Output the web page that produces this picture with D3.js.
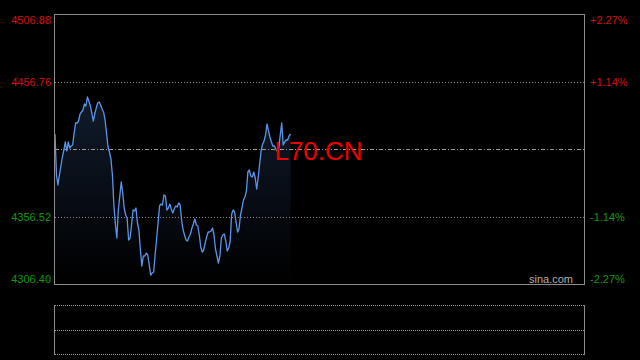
<!DOCTYPE html>
<html><head><meta charset="utf-8">
<script src="https://cdn.jsdelivr.net/npm/d3@7/dist/d3.min.js"></script>
<style>html,body{margin:0;padding:0;background:#000;}svg{display:block}</style>
</head><body>
<svg id="chart" width="640" height="360"></svg>
<script>
const symbol = "L70.CN";
const watermark = "sina.com";
const prevClose = 4406.64;
const priceMin = 4306.40, priceMax = 4506.88;
const axisPrices = [4506.88, 4456.76, 4356.52, 4306.40];
const gridPrices = [4456.76, 4356.52];
const totalSlots = 360;
const prices = [
4418.15,4387.71,4380.28,4387.71,4394.39,4401.07,4406.27,4412.21,4405.52,4412.21,
4407.75,4409.24,4409.98,4418.89,4426.32,4426.32,4427.80,4433.00,4434.48,4435.97,
4440.42,4438.94,4445.62,4442.65,4438.94,4433.74,4427.80,4433.00,4437.45,4441.17,
4441.91,4439.68,4436.71,4434.48,4428.54,4418.89,4408.50,4404.78,4399.58,4387.71,
4365.43,4351.32,4340.93,4361.72,4372.11,4382.51,4374.34,4363.20,4358.00,4355.78,
4339.44,4340.93,4350.58,4361.72,4360.97,4363.20,4352.06,4346.87,4332.02,4320.14,
4327.56,4327.56,4329.79,4328.30,4320.88,4313.45,4314.94,4315.68,4328.30,4340.18,
4352.06,4364.69,4366.17,4365.43,4372.85,4372.11,4361.72,4363.20,4366.17,4362.46,
4359.49,4362.46,4364.69,4363.95,4366.91,4365.43,4354.29,4346.87,4343.16,4339.44,
4338.70,4341.67,4343.90,4348.35,4351.32,4355.03,4350.58,4349.84,4343.16,4334.24,
4330.53,4332.02,4337.21,4341.67,4345.38,4345.38,4346.12,4348.35,4343.16,4332.76,
4327.56,4322.36,4327.56,4340.93,4343.16,4343.90,4338.70,4331.27,4333.50,4338.70,
4358.75,4361.72,4360.23,4352.81,4345.38,4347.61,4358.00,4363.20,4369.14,4371.37,
4375.82,4389.93,4391.42,4386.96,4386.22,4389.93,4385.48,4377.31,4385.48,4395.87,
4405.52,4410.72,4412.95,4417.41,4425.57,4420.38,4415.92,4412.21,4409.24,4409.24,
4407.01,4404.78,4408.50,4417.41,4426.32,4409.98,4412.21,4413.69,4413.69,4416.66,
4418.15
];

const svg = d3.select("#chart");
const L = 54.5, R = 584.5, T = 14.5, B = 284.5;
const x = d3.scaleLinear().domain([0, totalSlots]).range([55, 585]);
const y = d3.scaleLinear().domain([priceMin, priceMax]).range([B, T]);
const font = "Arial, 'Liberation Sans', sans-serif";

const defs = svg.append("defs");
const grad = defs.append("linearGradient").attr("id", "fillGrad")
  .attr("gradientUnits", "userSpaceOnUse").attr("x1", 0).attr("x2", 0).attr("y1", T).attr("y2", B);
grad.append("stop").attr("offset", 0).attr("stop-color", "#17273f");
grad.append("stop").attr("offset", 1).attr("stop-color", "#000000");

// area
const area = d3.area().x((d, i) => x(i)).y0(B).y1(d => y(d));
svg.append("path").datum(prices).attr("d", area).attr("fill", "url(#fillGrad)");

// grid lines (start at whole pixel so dots stay crisp)
gridPrices.forEach(p => {
  const yy = Math.round(y(p)) + 0.5;
  svg.append("line").attr("x1", 55).attr("x2", 584).attr("y1", yy).attr("y2", yy)
    .attr("stroke", "#8a8a8a").attr("stroke-width", 1).attr("stroke-dasharray", "1,2");
});
{
  const yy = Math.round(y(prevClose)) + 0.5;
  svg.append("line").attr("x1", 55).attr("x2", 584).attr("y1", yy).attr("y2", yy)
    .attr("stroke", "#9a9a9a").attr("stroke-width", 1).attr("stroke-dasharray", "4,2,1,2");
}

// price line
const line = d3.line().x((d, i) => x(i)).y(d => y(d));
svg.append("path").datum(prices).attr("d", line).attr("fill", "none")
  .attr("stroke", "#5a95ec").attr("stroke-width", 1.3).attr("stroke-linejoin", "round");

// frame
svg.append("rect").attr("x", L).attr("y", T).attr("width", R - L).attr("height", B - T)
  .attr("fill", "none").attr("stroke", "#8c8c8c").attr("stroke-width", 1);

// symbol text
svg.append("text").attr("x", 318.5).attr("y", 159.5).attr("text-anchor", "middle")
  .attr("font-family", font).attr("font-size", 26).attr("fill", "#ee0000").text(symbol);

// watermark
svg.append("text").attr("x", 573).attr("y", 283).attr("text-anchor", "end")
  .attr("font-family", font).attr("font-size", 11).attr("fill", "#b0b0b0").text(watermark);

// axis labels
const red = "#d81010", green = "#109a10";
axisPrices.forEach(p => {
  const yy = Math.min(Math.max(y(p), 20), 278.5);
  const col = p > prevClose ? red : green;
  svg.append("text").attr("x", 51).attr("y", yy + 4).attr("text-anchor", "end")
    .attr("font-family", font).attr("font-size", 11).attr("fill", col).text(p.toFixed(2));
  const pct = (p - prevClose) / prevClose * 100;
  svg.append("text").attr("x", 590).attr("y", yy + 4).attr("text-anchor", "start")
    .attr("font-family", font).attr("font-size", 11).attr("fill", col)
    .text((pct > 0 ? "+" : "") + pct.toFixed(2) + "%");
});

// bottom volume panel
const vT = 305.5, vM = 330.5, vB = 354.5;
[vT, vM, vB].forEach(v => {
  svg.append("line").attr("x1", 55).attr("x2", 584).attr("y1", v).attr("y2", v)
    .attr("stroke", "#9a9a9a").attr("stroke-dasharray", "1,1");
});
[L, R].forEach(xx => {
  svg.append("line").attr("x1", xx).attr("x2", xx).attr("y1", vT - 0.5).attr("y2", vB + 0.5)
    .attr("stroke", "#8c8c8c");
});
</script>
</body></html>
